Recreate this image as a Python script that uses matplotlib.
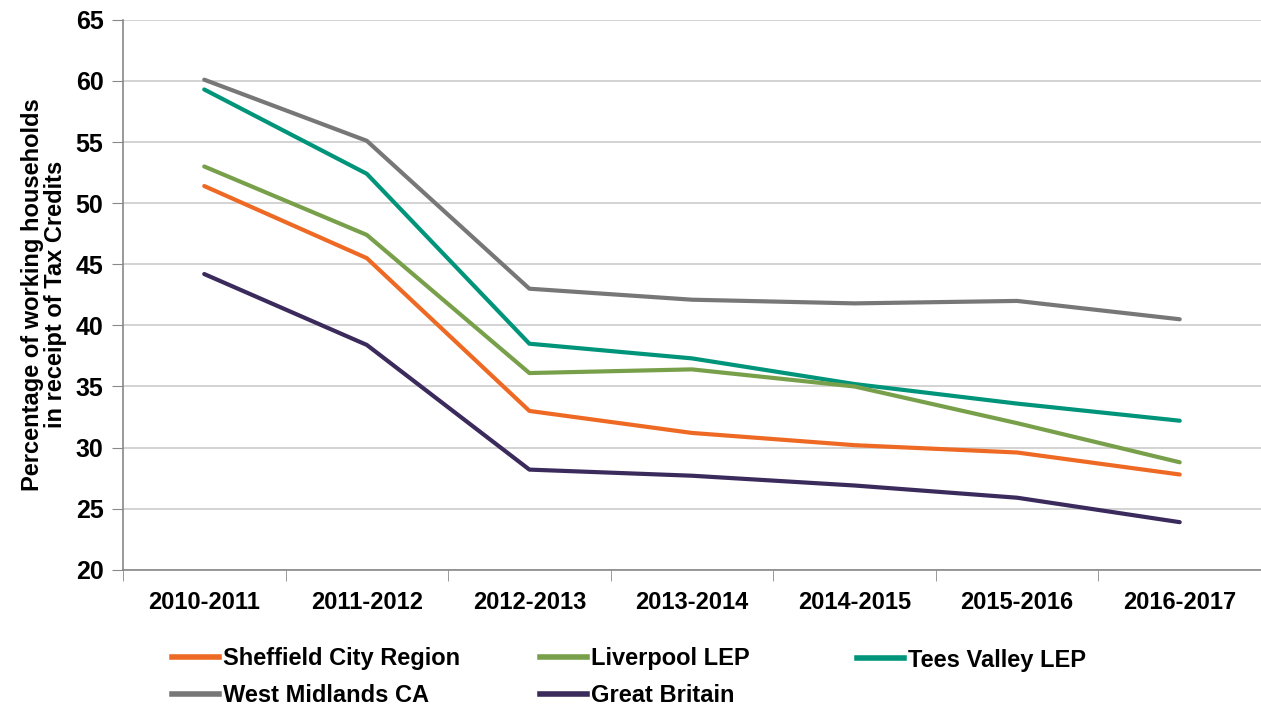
import matplotlib.pyplot as plt
from matplotlib.lines import Line2D

years = ["2010-2011", "2011-2012", "2012-2013", "2013-2014",
         "2014-2015", "2015-2016", "2016-2017"]
sheffield = [51.4, 45.5, 33.0, 31.2, 30.2, 29.6, 27.8]
liverpool = [53.0, 47.4, 36.1, 36.4, 35.0, 32.0, 28.8]
tees_valley = [59.3, 52.4, 38.5, 37.3, 35.2, 33.6, 32.2]
west_midlands = [60.1, 55.1, 43.0, 42.1, 41.8, 42.0, 40.5]
great_britain = [44.2, 38.4, 28.2, 27.7, 26.9, 25.9, 23.9]

colors = {
    "Sheffield City Region": '#ee6a24',
    "Liverpool LEP": '#78a04a',
    "Tees Valley LEP": '#00957a',
    "West Midlands CA": '#777777',
    "Great Britain": '#3b2a5c',
}


def add_legend_column(fig, names, x, y):
    handles = [Line2D([], [], color=colors[n], lw=4) for n in names]
    fig.legend(handles, names, loc='center left', bbox_to_anchor=(x, y),
               frameon=False, prop={'size': 17, 'weight': 'bold'},
               handlelength=2.0, handletextpad=0.15, labelspacing=0.58,
               borderpad=0, borderaxespad=0)


def main():
    plt.rcParams['font.family'] = ['Liberation Sans', 'DejaVu Sans']
    plt.rcParams['font.weight'] = 'bold'
    fig = plt.figure(figsize=(12.61, 7.07), dpi=100)
    ax = fig.add_axes([0.0975, 0.194, 0.9025, 0.778])

    x = range(len(years))
    # draw order: back to front
    ax.plot(x, great_britain, color=colors["Great Britain"], lw=3, solid_capstyle='round')
    ax.plot(x, west_midlands, color=colors["West Midlands CA"], lw=3, solid_capstyle='round')
    ax.plot(x, tees_valley, color=colors["Tees Valley LEP"], lw=3, solid_capstyle='round')
    ax.plot(x, liverpool, color=colors["Liverpool LEP"], lw=3, solid_capstyle='round')
    ax.plot(x, sheffield, color=colors["Sheffield City Region"], lw=3, solid_capstyle='round')

    ax.set_ylim(20, 65)
    ax.set_yticks(range(20, 66, 5))
    ax.set_xlim(-0.5, 6.5)
    ax.set_xticks(list(x))
    ax.set_xticklabels(years, fontsize=17, fontweight='bold')
    ax.set_xticks([i - 0.5 for i in range(8)], minor=True)
    ax.tick_params(axis='x', which='major', length=0, pad=15)
    ax.tick_params(axis='x', which='minor', length=8, color='#888888')
    ax.tick_params(axis='y', length=8, color='#888888', labelsize=18, pad=6)
    for lab in ax.get_yticklabels():
        lab.set_fontweight('bold')

    ax.grid(axis='y', color='#cccccc', lw=1.2)
    ax.set_axisbelow(True)
    for s in ['top', 'right']:
        ax.spines[s].set_visible(False)
    for s in ['left', 'bottom']:
        ax.spines[s].set_color('#888888')
        ax.spines[s].set_linewidth(1.2)

    ax.set_ylabel("Percentage of working households\nin receipt of Tax Credits",
                  fontsize=17, fontweight='bold', labelpad=6, linespacing=1.0)

    add_legend_column(fig, ["Sheffield City Region", "West Midlands CA"], 172 / 1261, 1 - 677 / 707)
    add_legend_column(fig, ["Liverpool LEP", "Great Britain"], 540 / 1261, 1 - 677 / 707)
    add_legend_column(fig, ["Tees Valley LEP"], 857 / 1261, 1 - 660 / 707)

    fig.savefig('out.png', dpi=100)


if __name__ == "__main__":
    main()
